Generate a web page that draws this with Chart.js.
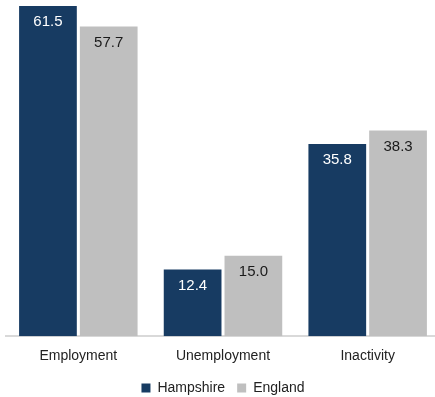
<!DOCTYPE html>
<html>
<head>
<meta charset="utf-8">
<script src="https://cdn.jsdelivr.net/npm/chart.js@4"></script>
<style>
  html, body { margin: 0; padding: 0; background: #ffffff; overflow: hidden; }
  #wrap { width: 440px; height: 397px; }
</style>
</head>
<body>
<div id="wrap"><canvas id="grafico"></canvas></div>
<script>
// Datos del gráfico
const categorias = ['Employment', 'Unemployment', 'Inactivity'];
const hampshire = [61.5, 12.4, 35.8];
const england = [57.7, 15.0, 38.3];

// Etiquetas de valor dentro de las barras
const etiquetasBarras = {
    id: 'etiquetasBarras',
    afterDatasetsDraw(chart) {
        const ctx = chart.ctx;
        ctx.save();
        ctx.font = '15px "Liberation Sans", Arial, sans-serif';
        ctx.textAlign = 'center';
        ctx.textBaseline = 'middle';
        chart.data.datasets.forEach((ds, i) => {
            const meta = chart.getDatasetMeta(i);
            ctx.fillStyle = i === 0 ? '#ffffff' : '#1a1a1a';
            meta.data.forEach((bar, j) => {
                ctx.fillText(ds.data[j].toFixed(1), bar.x, bar.y + 16);
            });
        });
        ctx.restore();
    }
};

new Chart(document.getElementById('grafico'), {
    type: 'bar',
    data: {
        labels: categorias,
        datasets: [
            { label: 'Hampshire', data: hampshire, backgroundColor: '#173b62' },
            { label: 'England', data: england, backgroundColor: '#bfbfbf' }
        ]
    },
    options: {
        responsive: true,
        maintainAspectRatio: false,
        animation: false,
        layout: { padding: { left: 6, right: 0, top: 6, bottom: 0 } },
        datasets: {
            bar: { categoryPercentage: 0.84, barPercentage: 0.95 }
        },
        plugins: {
            legend: {
                position: 'bottom',
                maxHeight: 28,
                labels: {
                    boxWidth: 9,
                    boxHeight: 9,
                    padding: 12,
                    color: '#222222',
                    font: { family: '"Liberation Sans", Arial, sans-serif', size: 14 }
                }
            },
            tooltip: { enabled: false }
        },
        scales: {
            x: {
                grid: { display: false },
                border: { color: '#d9d9d9', width: 2 },
                ticks: {
                    color: '#222222',
                    padding: 4,
                    font: { family: '"Liberation Sans", Arial, sans-serif', size: 14 }
                }
            },
            y: {
                display: false,
                min: 0,
                max: 61.5
            }
        }
    },
    plugins: [etiquetasBarras]
});
</script>
</body>
</html>
